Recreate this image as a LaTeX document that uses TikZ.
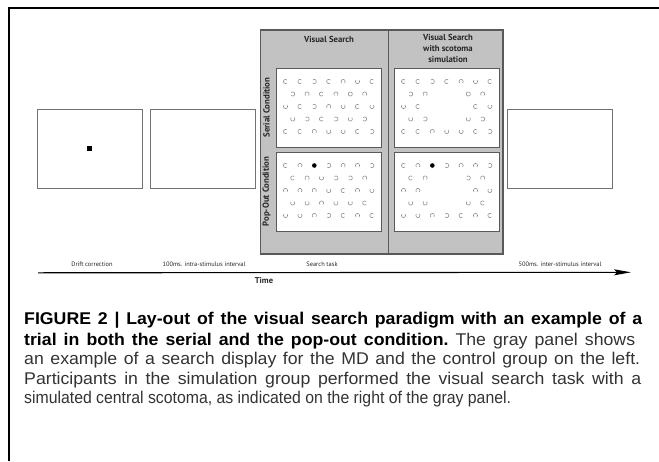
\documentclass[tikz,border=0pt]{standalone}
\usepackage{fontspec}
\usepackage{graphicx}
\setmainfont{PT Sans}
\newfontfamily\capfont[FakeStretch=0.93]{Liberation Sans}
\usetikzlibrary{arrows.meta}
\definecolor{panelgray}{gray}{0.76}
\definecolor{edgegray}{gray}{0.35}
\definecolor{screenedge}{gray}{0.45}
\definecolor{stimgray}{gray}{0.55}
\definecolor{textgray}{gray}{0.15}
\definecolor{capgray}{gray}{0.2}
% a justified caption line: slightly widened glyphs, spaces stretched to the width
\newcommand\capjust[2]{\scalebox{1.12}[1]{\makebox[#1pt][s]{#2}}}
% one stimulus: x, y, code (angle of the gap; -1 ring, -2 dot, -3 nothing)
\newcommand\stimitem[3]{%
  \pgfmathsetmacro\stx{#1}%
  \pgfmathsetmacro\sty{#2}%
  \ifnum#3<0
    \ifnum#3=-1 \draw[stim] (\stx,\sty) circle[radius=2.1pt];\fi
    \ifnum#3=-2 \fill[black] (\stx,\sty) circle[radius=2.3pt];\fi
  \else
    \draw[stim] (\stx,\sty) ++(#3+45:2.1pt) arc[start angle=#3+45, end angle=#3+315, radius=2.1pt];
  \fi}
% one row: left x of box, y, list, extra offset
\newcommand\stimrow[4]{%
  \foreach \t [count=\i] in {#3} {\stimitem{#1+9.5+#4+(\i-1)*14.4}{#2}{\t}}}
% five rows: left x, top y, rows
\newcommand\stimgrid[7]{%
  \stimrow{#1}{#2+13.5}{#3}{0}
  \stimrow{#1}{#2+26}{#4}{7.2}
  \stimrow{#1}{#2+38.5}{#5}{0}
  \stimrow{#1}{#2+51}{#6}{7.2}
  \stimrow{#1}{#2+63.5}{#7}{0}}
\tikzset{
  screen/.style={draw=screenedge, line width=0.9pt, fill=white, minimum width=105pt, minimum height=79pt, inner sep=0pt},
  display/.style={draw=edgegray, line width=1pt, fill=white, minimum width=105pt, minimum height=79pt, inner sep=0pt},
  stim/.style={draw=stimgray, line width=0.55pt},
  heading/.style={font=\bfseries\fontsize{8.7}{10.8}\selectfont, text=textgray, align=center, inner sep=0pt},
  sidelabel/.style={font=\bfseries\fontsize{8.8}{9}\selectfont, text=textgray, rotate=90, inner sep=0pt},
  steplabel/.style={font=\fontsize{6.4}{7}\selectfont, text=textgray, inner sep=0pt},
  timeline/.style={line width=1.1pt, -{Stealth[length=17pt,width=6pt,inset=3pt]}},
  capline/.style={font=\capfont\fontsize{17}{19}\selectfont\frenchspacing, anchor=base west, inner sep=0pt},
}
\begin{document}
\begin{tikzpicture}[x=1pt,y=-1pt]
\useasboundingbox (0,0) rectangle (659,461);
% frame
\coordinate (fbl) at (9,461);
\coordinate (ftl) at (9,7.6);
\coordinate (ftr) at (659,7.6);
\draw[line width=2pt] (fbl) -- (ftl) -- (ftr);
% screens
\node[screen] (drift) at (89.5,148.5) {};
\node[fill=black, minimum size=4.3pt, inner sep=0pt] (fix) at (drift.center) {};
\node[screen] (isi1) at (202.5,148.5) {};
\node[screen] (isi2) at (560,149) {};
% gray panel
\node[draw=edgegray, line width=1.1pt, fill=panelgray, minimum width=242.5pt, minimum height=224pt, inner sep=0pt] (panel) at (381.75,142) {};
\coordinate (divtop) at (388,30);
\coordinate (divbot) at (388,254);
\draw[edgegray, line width=1pt] (divtop) -- (divbot);
\node[heading] (h1) at (329,39) {Visual Search};
\node[heading, anchor=north] (h2) at (448,34.3) {Visual Search\\with scotoma\\simulation};
\node[sidelabel] (s1) at (266.5,107.5) {Serial Condition};
\node[sidelabel] (s2) at (266.5,191.5) {Pop-Out Condition};
\node[display] (sl) at (328.5,107.5) {};
\node[display] (sr) at (446.5,107.5) {};
\node[display] (pl) at (328.5,191.5) {};
\node[display] (pr) at (446.5,191.5) {};
% serial, left
\stimgrid{276}{68}{0,0,180,0,270,90,0}{180,270,0,270,-1,270}{90,0,180,270,90,0,90}{90,180,0,180,90,180}{0,0,270,90,90,0,180}
% serial, right (scotoma)
\stimgrid{394}{68}{0,0,180,0,270,90,0}{180,270,-3,-3,-1,270}{90,0,-3,-3,-3,0,90}{90,180,-3,-3,90,180}{0,0,270,90,90,0,180}
% pop-out, left
\stimgrid{276}{152}{0,270,-2,180,270,270,180}{0,270,90,180,180,270}{270,270,270,90,0,270,90}{90,90,270,90,90,0}{90,90,270,180,0,270,0}
% pop-out, right (scotoma)
\stimgrid{394}{152}{0,270,-2,180,270,270,180}{0,270,-3,-3,180,270}{270,270,-3,-3,-3,270,90}{90,90,-3,-3,90,0}{90,90,270,180,0,270,0}
% time line
\node[steplabel] (l1) at (92,264) {Drift correction};
\node[steplabel] (l2) at (204,264) {100ms. intra-stimulus interval};
\node[steplabel] (l3) at (322,264) {Search task};
\node[steplabel] (l4) at (560,264) {500ms. inter-stimulus interval};
\coordinate (tstart) at (38,272.8);
\coordinate (tend) at (631,272.3);
\draw[timeline] (tstart) -- (tend);
\node[font=\bfseries\fontsize{8.5}{10}\selectfont, text=textgray, inner sep=0pt] (time) at (264,281) {Time};
% caption
\node[capline] (c1) at (24,324) {\capjust{551.8}{\bfseries FIGURE 2 | Lay-out of the visual search paradigm with an example of a}};
\node[capline] (c2) at (24,345) {\capjust{545.5}{\textbf{trial in both the serial and the pop-out condition.} \color{capgray}The gray panel shows}};
\node[capline, text=capgray] (c3) at (24,364.5) {\capjust{550}{an example of a search display for the MD and the control group on the left.}};
\node[capline, text=capgray] (c4) at (24,384) {\capjust{550.9}{Participants in the simulation group performed the visual search task with a}};
\node[capline, text=capgray] (c5) at (24,403) {simulated central scotoma, as indicated on the right of the gray panel.};
\end{tikzpicture}
\end{document}
